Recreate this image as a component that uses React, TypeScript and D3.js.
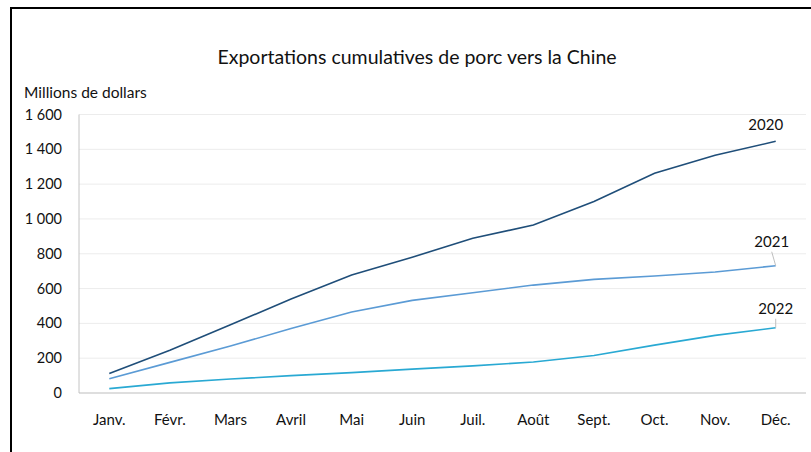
import React from "react";
import * as d3 from "d3";

const months = ["Janv.", "Févr.", "Mars", "Avril", "Mai", "Juin", "Juil.", "Août", "Sept.", "Oct.", "Nov.", "Déc."];
const series2020 = [112, 245, 392, 540, 678, 780, 889, 965, 1100, 1262, 1366, 1446];
const series2021 = [82, 176, 270, 370, 465, 532, 576, 620, 653, 672, 695, 731];
const series2022 = [25, 58, 80, 100, 117, 137, 156, 178, 215, 275, 331, 375];
const yTicks = [0, 200, 400, 600, 800, 1000, 1200, 1400, 1600];
const seriesNames = ["2020", "2021", "2022"];

const W = 811;
const H = 452;
const FONT = "Lato, 'Open Sans', sans-serif";

export default function App() {
  const x = d3.scaleBand<string>().domain(months).range([79, 806]).padding(0);
  const y = d3.scaleLinear().domain([0, 1600]).range([393, 114.5]);
  const cx = (m: string) => (x(m) as number) + x.bandwidth() / 2;
  const fmt = (v: number) => d3.format(",")(v).replace(/,/g, " ");

  const line = d3
    .line<number>()
    .x((_, i) => cx(months[i]))
    .y((v) => y(v))
    .curve(d3.curveLinear);

  const data = [
    { name: seriesNames[0], values: series2020, color: "#1f4e79" },
    { name: seriesNames[1], values: series2021, color: "#5b9bd5" },
    { name: seriesNames[2], values: series2022, color: "#29a9d3" },
  ];

  const last = months[months.length - 1];
  const ex = cx(last);
  const labelPos = [
    { dx: -10, dy: -11, leader: false },
    { dx: -4, dy: -19, leader: true },
    { dx: 0, dy: -14, leader: true },
  ];

  return (
    <svg
      width={W}
      height={H}
      style={{ position: "absolute", left: 0, top: 0, background: "#fff" }}
      fontFamily={FONT}
    >
      <rect x={11} y={8} width={W + 20} height={H + 20} fill="#fff" stroke="#000" strokeWidth={2} />
      <text x={417} y={64} textAnchor="middle" fontSize={19.5} fill="#111">
        Exportations cumulatives de porc vers la Chine
      </text>
      <text x={24} y={98} fontSize={15.5} fill="#111">
        Millions de dollars
      </text>
      {yTicks.map((t) => (
        <g key={t}>
          {t > 0 && (
            <line x1={79} x2={806} y1={y(t)} y2={y(t)} stroke="#ececec" strokeWidth={1} />
          )}
          <text x={62} y={y(t) + 5} textAnchor="end" fontSize={14.5} fill="#111">
            {fmt(t)}
          </text>
        </g>
      ))}
      <line x1={79} x2={79} y1={114.5} y2={393} stroke="#c4c4c4" strokeWidth={1} />
      <line x1={79} x2={806} y1={393} y2={393} stroke="#bdbdbd" strokeWidth={1.2} />
      {months.map((m) => (
        <text key={m} x={cx(m)} y={425} textAnchor="middle" fontSize={15} fill="#111">
          {m}
        </text>
      ))}
      {data.map((s) => (
        <path key={s.name} d={line(s.values) as string} fill="none" stroke={s.color} strokeWidth={1.6} />
      ))}
      {data.map((s, i) => {
        const ey = y(s.values[s.values.length - 1]);
        const p = labelPos[i];
        const lx = ex + p.dx;
        const ly = ey + p.dy;
        return (
          <g key={s.name}>
            {p.leader && (
              <line x1={lx} y1={ly + 5} x2={ex} y2={ey} stroke="#bfbfbf" strokeWidth={1} />
            )}
            <text x={lx} y={ly} textAnchor="middle" fontSize={15} fill="#111">
              {s.name}
            </text>
          </g>
        );
      })}
    </svg>
  );
}
